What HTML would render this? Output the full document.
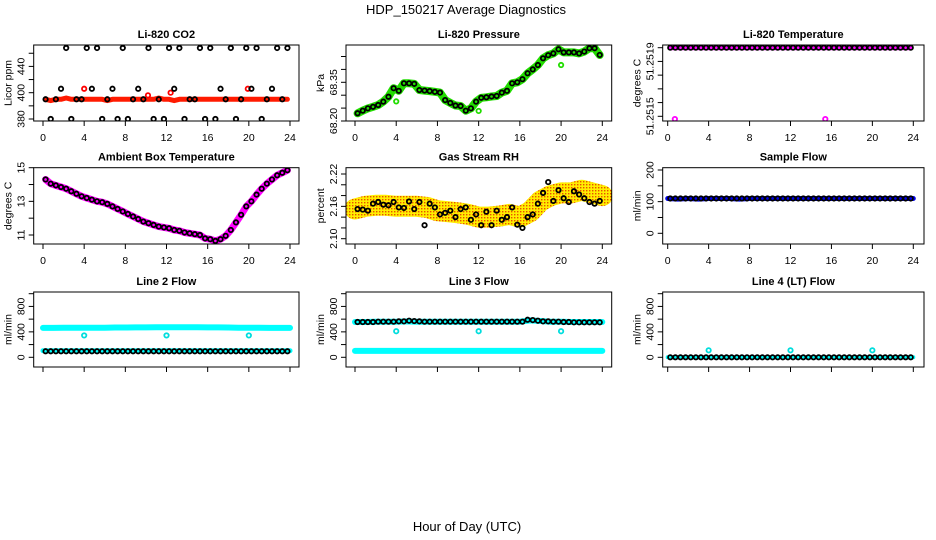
<!DOCTYPE html>
<html><head><meta charset="utf-8">
<style>
html,body{margin:0;padding:0;background:#fff;}
svg{display:block;font-family:"Liberation Sans",Arial,sans-serif;}
</style></head>
<body>
<svg id="chart" width="936" height="540" viewBox="0 0 936 540" xmlns="http://www.w3.org/2000/svg">
<defs>
<pattern id="rhpat" width="3" height="3" patternUnits="userSpaceOnUse">
<rect width="3" height="3" fill="#ffee00"/><rect x="1" y="1" width="1.4" height="1.4" fill="#e85000"/>
</pattern>
</defs>
<text x="466" y="14" font-size="13" text-anchor="middle">HDP_150217  Average Diagnostics</text>
<text x="467" y="531" font-size="13" text-anchor="middle">Hour of Day (UTC)</text>
</svg>
<script>
// ---- data (half-hour averages, 0.25..23.75 h) ----
const co2Black = [395,380,395,403,434,380,395,395,434,403,434,380,395,403,380,434,380,395,403,395,434,380,395,380,434,403,434,380,395,395,434,380,434,380,403,395,434,380,395,434,403,434,380,395,403,434,395,434];
const co2Red = [395,394,395,395,396,395,395,395,395,395,395,395,394,395,395,395,395,395,395,395,395,395,396,395,395,394,395,395,395,395,395,395,395,395,395,395,395,395,395,395,395,395,395,395,395,395,395,395];
const co2RedOutX = [4.0, 10.2, 12.4, 19.9];
const co2RedOutY = [403, 398, 400, 403];
const presBlack = [68.230,68.240,68.249,68.255,68.262,68.275,68.294,68.327,68.317,68.346,68.346,68.344,68.320,68.318,68.316,68.313,68.310,68.281,68.270,68.260,68.258,68.240,68.249,68.275,68.290,68.292,68.295,68.297,68.310,68.317,68.346,68.350,68.362,68.385,68.400,68.417,68.443,68.455,68.462,68.478,68.466,68.466,68.466,68.462,68.469,68.482,68.482,68.456];
const presOutX = [4.0, 12.0, 20.0];
const presOutY = [68.276, 68.239, 68.417];
const tempBlack = [51.2519,51.2519,51.2519,51.2519,51.2519,51.2519,51.2519,51.2519,51.2519,51.2519,51.2519,51.2519,51.2519,51.2519,51.2519,51.2519,51.2519,51.2519,51.2519,51.2519,51.2519,51.2519,51.2519,51.2519,51.2519,51.2519,51.2519,51.2519,51.2519,51.2519,51.2519,51.2519,51.2519,51.2519,51.2519,51.2519,51.2519,51.2519,51.2519,51.2519,51.2519,51.2519,51.2519,51.2519,51.2519,51.2519,51.2519,51.2519];
const tempOutX = [0.7, 15.4];
const tempOutY = [51.25138, 51.25138];
const ambBlack = [14.3,14.05,13.95,13.85,13.75,13.6,13.45,13.3,13.2,13.1,13.0,12.95,12.85,12.7,12.55,12.4,12.25,12.1,11.95,11.8,11.7,11.6,11.5,11.45,11.4,11.3,11.25,11.15,11.1,11.05,11.0,10.8,10.75,10.65,10.75,10.95,11.3,11.75,12.2,12.7,13.0,13.4,13.75,14.05,14.3,14.55,14.7,14.85];
const rhBlack = [2.155,2.154,2.152,2.165,2.168,2.163,2.162,2.168,2.158,2.157,2.169,2.155,2.168,2.125,2.165,2.158,2.145,2.148,2.152,2.14,2.155,2.158,2.135,2.145,2.125,2.15,2.125,2.152,2.135,2.14,2.158,2.126,2.12,2.14,2.145,2.165,2.185,2.205,2.17,2.19,2.175,2.168,2.188,2.182,2.175,2.168,2.165,2.17];
const rhCloud = [2.155,2.160,2.162,2.162,2.160,2.160,2.160,2.158,2.152,2.150,2.148,2.145,2.140,2.140,2.142,2.145,2.140,2.150,2.170,2.180,2.185,2.185,2.190,2.185,2.180];
const sampleBlack = [110,110,110,110,110,110,110,110,110,110,110,110,110,110,110,110,110,110,110,110,110,110,110,110,110,110,110,110,110,110,110,110,110,110,110,110,110,110,110,110,110,110,110,110,110,110,110,110];
const sampleBlue = [110,108,110,108,110,110,110,108,110,110,110,110,110,110,110,110,110,110,110,110,110,110,110,110,110];
const l2Black = [95,95,95,95,95,95,95,95,95,95,95,95,95,95,95,95,95,95,95,95,95,95,95,95,95,95,95,95,95,95,95,95,95,95,95,95,95,95,95,95,95,95,95,95,95,95,95,95];
const l2CyanHi = [462,462,465,465,465,465,465,468,468,470,470,472,472,472,472,472,470,470,468,465,465,465,462,462,462];
const l2CyanLo = [103,103,103,103,103,103,103,103,103,103,103,103,103,103,103,103,103,103,103,103,103,103,103,103,103];
const l2OutX = [4.0, 12.0, 20.0];
const l2OutY = [344, 344, 344];
const l3Black = [555,555,555,555,560,560,560,560,565,565,575,570,565,560,560,560,560,560,560,560,560,560,560,560,560,560,560,560,560,560,560,560,560,590,585,575,565,565,560,560,555,555,550,550,550,550,550,550];
const l3CyanHi = [555,555,560,560,560,565,560,560,560,560,560,560,560,560,560,560,560,580,570,560,560,555,555,555,555];
const l3CyanLo = [100,100,100,100,100,100,100,100,100,100,100,100,100,100,100,100,100,100,100,100,100,100,100,100,100];
const l3OutX = [4.0, 12.0, 20.0];
const l3OutY = [410, 410, 410];
const l4Black = [0,0,0,0,0,0,0,0,0,0,0,0,0,0,0,0,0,0,0,0,0,0,0,0,0,0,0,0,0,0,0,0,0,0,0,0,0,0,0,0,0,0,0,0,0,0,0,0];
const l4Cyan = [0,0,0,0,0,0,0,0,0,0,0,0,0,0,0,0,0,0,0,0,0,0,0,0,0];
const l4OutX = [4.0, 12.0, 20.0];
const l4OutY = [110, 110, 110];
const xTickVals = [0,4,8,12,16,20,24];
const xTickLabels = ["0","4","8","12","16","20","24"];

const NS = "http://www.w3.org/2000/svg";
const svg = document.getElementById('chart');
const cols = [{L:33.7,R:299,x0:43,x24:290},{L:346,R:611.7,x0:355,x24:602.3},{L:662.7,R:924,x0:667.7,x24:913.3}];
const rows = [{T:45,B:121},{T:167.7,B:244},{T:292,B:367}];

function el(tag, attrs, parent){
  const e = document.createElementNS(NS, tag);
  for (const k in attrs) e.setAttribute(k, attrs[k]);
  (parent||svg).appendChild(e);
  return e;
}
function halfHours(n){ const a=[]; for(let i=0;i<n;i++) a.push(0.25+0.5*i); return a; }
function wholeHours(n){ const a=[]; for(let i=0;i<n;i++) a.push(i); return a; }

function panel(o){
  const c = cols[o.col], r = rows[o.row];
  const g = el('g', {});
  
  
  const sx = h => c.x0 + h/24*(c.x24-c.x0);
  const sy = v => o.y1 + (v - o.v1)/(o.v2 - o.v1)*(o.y2 - o.y1);
  const t = el('text', {x:(c.L+c.R)/2, y:r.T-7, 'font-size':11, 'font-weight':'bold', 'text-anchor':'middle'}, g);
  t.textContent = o.title;
  
  
  const yl = el('text', {transform:`translate(${c.L-22},${(r.T+r.B)/2}) rotate(-90)`, 'font-size':10.5, 'text-anchor':'middle'}, g);
  yl.textContent = o.ylab;
  
  
  o.yTicks.forEach((v,i)=>{
    const y = sy(v);
    const tk = el('line', {x1:c.L-5, x2:c.L, y1:y, y2:y, stroke:'#000', 'stroke-width':1}, g);
    
    
    if (o.yLabels[i]) {
      const tl = el('text', {transform:`translate(${c.L-9},${y}) rotate(-90)`, 'font-size':10.5, 'text-anchor':'middle'}, g);
      tl.textContent = o.yLabels[i];
      
      
    }
  });
  xTickVals.forEach((h,i)=>{
    const x = sx(h);
    const tk = el('line', {x1:x, x2:x, y1:r.B, y2:r.B+5, stroke:'#000', 'stroke-width':1}, g);
    
    
    if (o.row < 2) {
      const tl = el('text', {x:x, y:r.B+20, 'font-size':10.5, 'text-anchor':'middle'}, g);
      tl.textContent = xTickLabels[i];
      
      
    }
  });
  const clipId = 'clip-' + o.name;
  const cp = el('clipPath', {id:clipId}, g);
  el('rect', {x:c.L, y:r.T, width:c.R-c.L, height:r.B-r.T}, cp);
  const pg = el('g', {'clip-path':`url(#${clipId})`}, g);
  
  
  (o.bands||[]).forEach(b=>{
    const xs = b.hours || wholeHours(b.vals.length);
    const pts = b.vals.map((v,i)=>`${sx(xs[i]).toFixed(1)},${sy(v).toFixed(1)}`).join(' ');
    const pl = el('polyline', {points:pts, fill:'none', stroke:b.color, 'stroke-width':b.w, 'stroke-linejoin':'round', 'stroke-linecap':'round'}, pg);
    
    
  });
  (o.points||[]).forEach(s=>{
    const xs = s.hours || halfHours(s.vals.length);
    s.vals.forEach((v,i)=>{
      const ci = el('circle', {cx:sx(xs[i]), cy:sy(v), r:2.2, fill:'none', stroke:s.color, 'stroke-width':1.8}, pg);
      
      
    });
  });
  const bx = el('rect', {x:c.L, y:r.T, width:c.R-c.L, height:r.B-r.T, fill:'none', stroke:'#000', 'stroke-width':1}, g);
  
  
}

panel({name:'co2', col:0,row:0,title:'Li-820 CO2', ylab:'Licor ppm', v1:380,y1:119,v2:400,y2:92.7,
  yTicks:[380,390,400,410,420,430], yLabels:["380","","400","","440",""],
  bands:[{name:'co2-red-band', vals:co2Red, hours:halfHours(co2Red.length), color:'#ff1a00', w:5}],
  points:[{name:'co2-red-point', vals:co2RedOutY, hours:co2RedOutX, color:'#ff0000'},
          {name:'co2-point', vals:co2Black, color:'#000'}]});
panel({name:'pressure', col:1,row:0,title:'Li-820 Pressure', ylab:'kPa', v1:68.20,y1:121,v2:68.35,y2:82.3,
  yTicks:[68.20,68.25,68.30,68.35,68.40,68.45], yLabels:["68.20","","","68.35","",""],
  bands:[{name:'pressure-green-band', vals:presBlack, hours:halfHours(presBlack.length), color:'#22dd00', w:8}],
  points:[{name:'pressure-green-point', vals:presOutY, hours:presOutX, color:'#22dd00'},
          {name:'pressure-point', vals:presBlack, color:'#000'}]});
panel({name:'li820-temp', col:2,row:0,title:'Li-820 Temperature', ylab:'degrees C', v1:51.2514,y1:116.3,v2:51.2519,y2:47.7,
  yTicks:[51.2514,51.2515,51.2516,51.2517,51.2518,51.2519], yLabels:["51.2515","","","","51.2519",""],
  bands:[{name:'li820-temp-magenta-band', vals:tempBlack, hours:halfHours(tempBlack.length), color:'#ff00ff', w:5}],
  points:[{name:'li820-temp-magenta-point', vals:tempOutY, hours:tempOutX, color:'#ff00ff'},
          {name:'li820-temp-point', vals:tempBlack, color:'#000'}]});
panel({name:'ambient-temp', col:0,row:1,title:'Ambient Box Temperature', ylab:'degrees C', v1:11,y1:235,v2:15,y2:167.7,
  yTicks:[11,12,13,14,15], yLabels:["11","","13","","15"],
  bands:[{name:'ambient-temp-magenta-band', vals:ambBlack, hours:halfHours(ambBlack.length), color:'#ff00ff', w:7}],
  points:[{name:'ambient-temp-point', vals:ambBlack, color:'#000'}]});
panel({name:'rh', col:1,row:1,title:'Gas Stream RH', ylab:'percent', v1:2.10,y1:238.7,v2:2.22,y2:174,
  yTicks:[2.10,2.12,2.14,2.16,2.18,2.20,2.22], yLabels:["2.10","","","2.16","","","2.22"],
  bands:[{name:'rh-cloud-band', vals:rhCloud, color:'url(#rhpat)', w:21}],
  points:[{name:'rh-point', vals:rhBlack, color:'#000'}]});
panel({name:'sample-flow', col:2,row:1,title:'Sample Flow', ylab:'ml/min', v1:0,y1:233.3,v2:200,y2:170,
  yTicks:[0,50,100,150,200], yLabels:["0","","100","","200"],
  bands:[{name:'sample-flow-blue-band', vals:sampleBlue, color:'#0000ee', w:5}],
  points:[{name:'sample-flow-point', vals:sampleBlack, color:'#000'}]});
const flowTicks = [0,200,400,600,800,1000];
const flowLabels = ["0","","400","","800",""];
panel({name:'line2-flow', col:0,row:2,title:'Line 2 Flow', ylab:'ml/min', v1:0,y1:357.3,v2:1000,y2:293.7,
  yTicks:flowTicks, yLabels:flowLabels,
  bands:[{name:'line2-cyan-high-band', vals:l2CyanHi, color:'#00ffff', w:6},
         {name:'line2-cyan-low-band', vals:l2CyanLo, color:'#00ffff', w:5}],
  points:[{name:'line2-cyan-point', vals:l2OutY, hours:l2OutX, color:'#00dddd'},
          {name:'line2-point', vals:l2Black, color:'#000'}]});
panel({name:'line3-flow', col:1,row:2,title:'Line 3 Flow', ylab:'ml/min', v1:0,y1:357.3,v2:1000,y2:293.7,
  yTicks:flowTicks, yLabels:flowLabels,
  bands:[{name:'line3-cyan-high-band', vals:l3CyanHi, color:'#00ffff', w:6},
         {name:'line3-cyan-low-band', vals:l3CyanLo, color:'#00ffff', w:6}],
  points:[{name:'line3-cyan-point', vals:l3OutY, hours:l3OutX, color:'#00dddd'},
          {name:'line3-point', vals:l3Black, color:'#000'}]});
panel({name:'line4-flow', col:2,row:2,title:'Line 4 (LT) Flow', ylab:'ml/min', v1:0,y1:357.3,v2:1000,y2:293.7,
  yTicks:flowTicks, yLabels:flowLabels,
  bands:[{name:'line4-cyan-band', vals:l4Cyan, color:'#00ffff', w:4}],
  points:[{name:'line4-cyan-point', vals:l4OutY, hours:l4OutX, color:'#00dddd'},
          {name:'line4-point', vals:l4Black, color:'#000'}]});
</script>
</body></html>
